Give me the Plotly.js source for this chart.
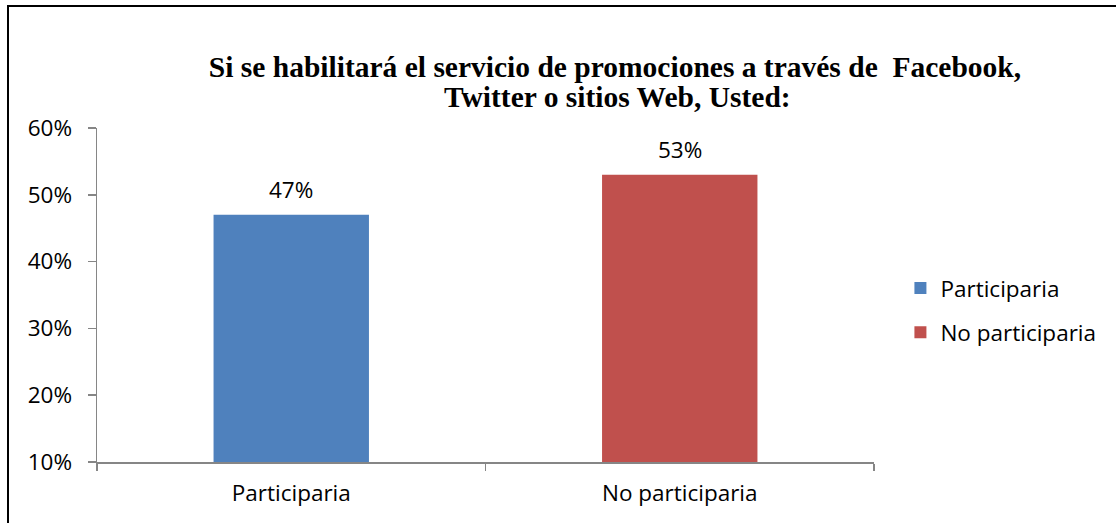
<!DOCTYPE html>
<html>
<head>
<meta charset="utf-8">
<script src="https://cdn.plot.ly/plotly-3.0.1.min.js"></script>
<style>
html,body{margin:0;padding:0;background:#fff;}
#wrap{position:relative;width:1116px;height:523px;}
#chart{width:1116px;height:523px;}
#frame{position:absolute;left:7px;top:5px;right:0;bottom:0;border-top:2px solid #000;border-left:2px solid #000;pointer-events:none;}
</style>
</head>
<body>
<div id="wrap"><div id="chart"></div><div id="frame"></div></div>
<script>
const categories = ["Participaria", "No participaria"];
const values = [47, 53];
const colors = ["#4F81BD", "#C0504D"];
const yTickVals = [10, 20, 30, 40, 50, 60];
const yTickText = ["10%", "20%", "30%", "40%", "50%", "60%"];
const titleLine1 = "Si se habilitará el servicio de promociones a través de  Facebook,";
const titleLine2 = "Twitter o sitios Web, Usted:";

const FONT = "Open Sans, sans-serif";
const FS = 22.5;
const TFONT = {family: "Liberation Serif, Times New Roman, serif", size: 29.5, color: "#000"};
const traces = categories.map((c, i) => ({
  type: "bar",
  name: c,
  x: [c],
  y: [values[i]],
  marker: {color: colors[i]},
  width: 0.4,
  legendgroup: "g" + i,
  hoverinfo: "none"
}));

const annotations = categories.map((c, i) => ({
  x: c, y: values[i], xref: "x", yref: "y",
  text: values[i] + "%", showarrow: false,
  yanchor: "bottom", yshift: 8,
  font: {family: FONT, size: FS, color: "#000"}
}));
annotations.push({
  text: "<b>" + titleLine2 + "</b>", showarrow: false,
  xref: "paper", yref: "paper",
  x: (617 - 97) / 777, y: (462 - 97) / 334,
  xanchor: "center", yanchor: "middle",
  font: TFONT
});

const layout = {
  width: 1116, height: 523,
  margin: {l: 97, r: 242, t: 128, b: 61, pad: 0},
  paper_bgcolor: "#fff", plot_bgcolor: "#fff",
  showlegend: true,
  barmode: "overlay",
  title: {
    text: "<b>" + titleLine1 + "</b>",
    font: TFONT,
    x: 615 / 1116, xanchor: "center", xref: "container",
    y: 1 - 67 / 523, yanchor: "middle", yref: "container"
  },
  xaxis: {
    type: "category",
    range: [-0.5, 1.5],
    showline: true, linecolor: "#868686", linewidth: 1.5,
    ticks: "outside", tickson: "boundaries", ticklen: 7, tickcolor: "#868686", tickwidth: 1.5,
    showgrid: false, zeroline: false,
    tickfont: {family: FONT, size: FS, color: "#000"},
    ticklabelstandoff: 10
  },
  yaxis: {
    range: [10, 60],
    tickvals: yTickVals, ticktext: yTickText,
    showline: true, linecolor: "#868686", linewidth: 1.5,
    ticks: "outside", ticklen: 8, tickcolor: "#868686", tickwidth: 1.5,
    showgrid: false, zeroline: false,
    tickfont: {family: FONT, size: FS, color: "#000"},
    ticklabelstandoff: 11
  },
  legend: {
    x: 1.034, xanchor: "left", y: 0.454, yanchor: "middle",
    traceorder: "grouped", tracegroupgap: 12,
    font: {family: FONT, size: FS, color: "#000"},
    itemwidth: 30, bgcolor: "rgba(0,0,0,0)"
  },
  annotations: annotations
};

Plotly.newPlot("chart", traces, layout, {displayModeBar: false, staticPlot: true});
</script>
</body>
</html>
